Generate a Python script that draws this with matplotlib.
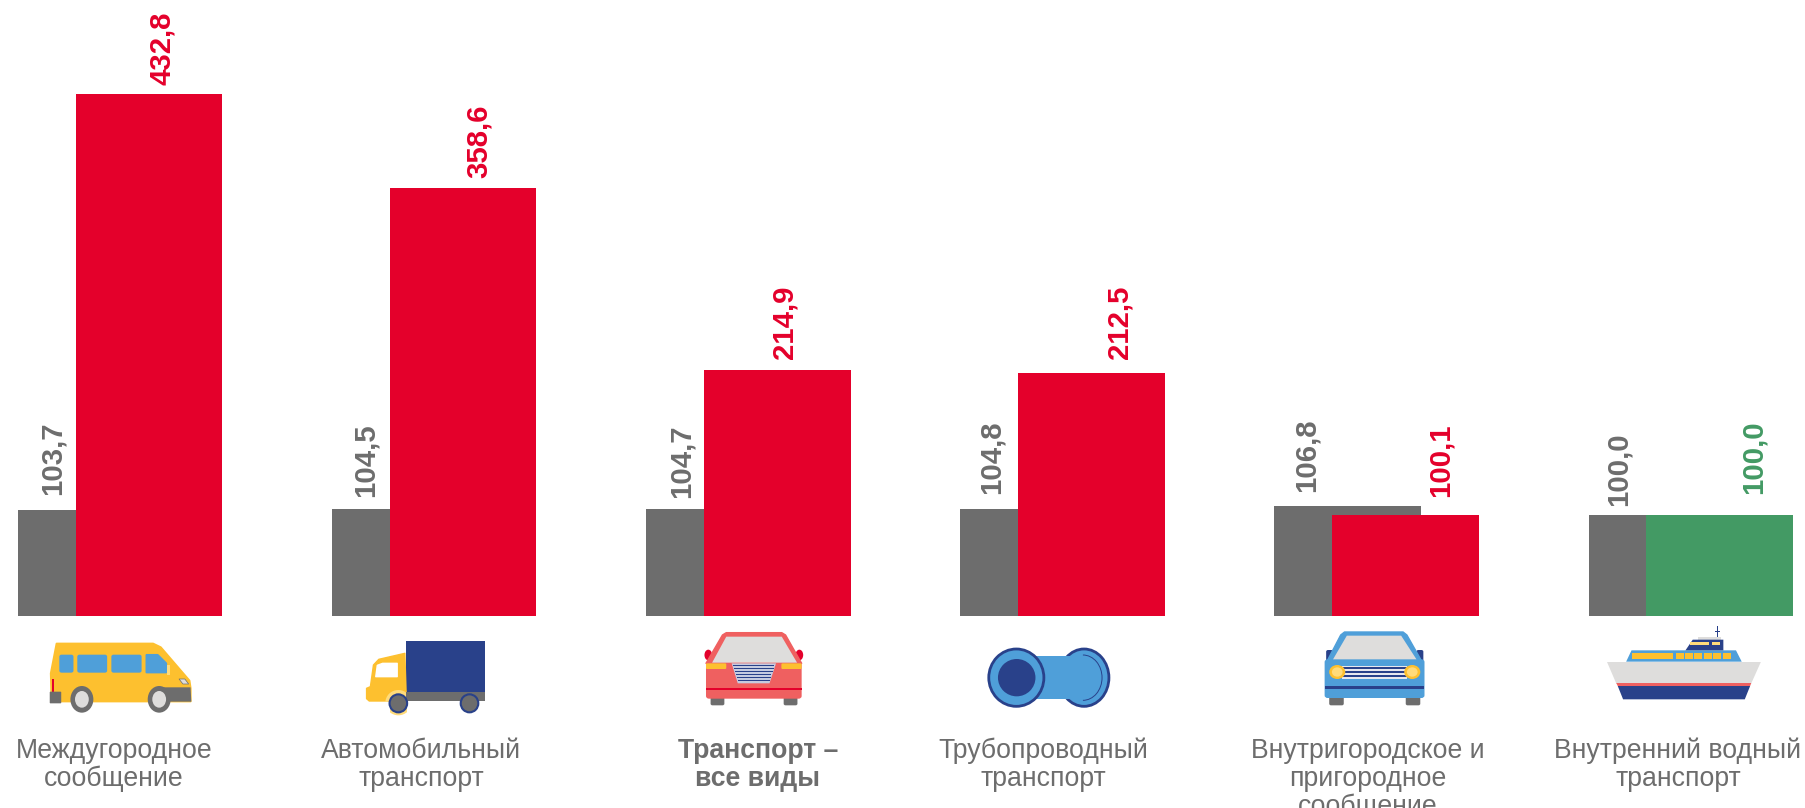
import matplotlib
matplotlib.use("Agg")
import matplotlib.pyplot as plt
from matplotlib.patches import Polygon, Ellipse, Rectangle, FancyBboxPatch, Arc
from matplotlib.transforms import Affine2D

plt.rcParams['font.family'] = ['Liberation Sans', 'DejaVu Sans']

# ---- data ----
categories = ["Междугородное\nсообщение", "Автомобильный\nтранспорт", "Транспорт –\nвсе виды",
              "Трубопроводный\nтранспорт", "Внутригородское и\nпригородное\nсообщение",
              "Внутренний водный\nтранспорт"]
grey_values = [103.7, 104.5, 104.7, 104.8, 106.8, 100.0]
main_values = [432.8, 358.6, 214.9, 212.5, 100.1, 100.0]

# ---- styles / layout ----
GREY, RED, GREEN = "#6D6D6D", "#E4002B", "#439A64"
YEL, PALE, BLUE, NAVY, LG, CORAL = "#FDC02F", "#FFDB7A", "#4F9FD9", "#29418A", "#DEDDDC", "#EF6060"
main_colors = [RED, RED, RED, RED, RED, GREEN]
bold_flags = [False, False, True, False, False, False]
W, H = 1806, 808
PX_GROUP, PX_BAR, PX_OFF = 314.1, 146.7, 57.6
grey_dx = [-39, -40, -38, -42, -41, -43]
main_dx = [13, 16, 7, 28, 35, 34]
grey_dy = [15, 12, 11, 15, 14, 9]
main_dy = [9, 10, 11, 14, 18, 21]
label_cx = [114, 421, 758, 1043, 1368, 1678]
y0, ppu, ybase = 616, 1.2666, 20.3
left_px = 120.2

fig = plt.figure(figsize=(W / 100, H / 100), dpi=100, facecolor="white")
ax = fig.add_axes([0, 1 - y0 / H, 1, y0 / H])
ax.set_xlim(-left_px / PX_GROUP, (W - left_px) / PX_GROUP)
ax.set_ylim(ybase, ybase + y0 / ppu)
ax.axis("off")

bw, off = PX_BAR / PX_GROUP, PX_OFF / PX_GROUP / 2
xs = list(range(len(categories)))
ax.bar([x - off for x in xs], grey_values, width=bw, color=GREY, bottom=0, zorder=2)
ax.bar([x + off for x in xs], main_values, width=bw, color=main_colors, bottom=0, zorder=3)


def fmt(v):
    return f"{v:.1f}".replace(".", ",")


PT = 72 / 100
for i, x in enumerate(xs):
    ax.annotate(fmt(grey_values[i]), (x - off, grey_values[i]),
                xytext=(grey_dx[i] * PT, grey_dy[i] * PT), textcoords="offset points",
                rotation=90, ha="center", va="bottom", color=GREY, fontsize=21.2,
                fontweight="bold", annotation_clip=False)
    ax.annotate(fmt(main_values[i]), (x + off, main_values[i]),
                xytext=(main_dx[i] * PT, main_dy[i] * PT), textcoords="offset points",
                rotation=90, ha="center", va="bottom", color=main_colors[i], fontsize=21.2,
                fontweight="bold", annotation_clip=False)

# overlay in pixel space for pictograms and category captions
ov = fig.add_axes([0, 0, 1, 1], zorder=5)
ov.set_xlim(0, W)
ov.set_ylim(H, 0)
ov.axis("off")
ov.patch.set_alpha(0)

for i, txt in enumerate(categories):
    ov.text(label_cx[i], 738, txt, ha="center", va="top", color=GREY, fontsize=19.2,
            fontweight="bold" if bold_flags[i] else "normal", linespacing=1.08)


def crop(x0):
    return Affine2D().scale(600 / 1568, 1 / 3).translate(x0, 610) + ov.transData


def poly(tr, pts, c, ec=None, lw=0):
    ov.add_patch(Polygon(pts, closed=True, fc=c, ec=ec or c, lw=lw, joinstyle="round", transform=tr))


def rect(tr, x1, y1, x2, y2, c, r=0):
    if r:
        ov.add_patch(FancyBboxPatch((x1 + r, y1 + r), x2 - x1 - 2 * r, y2 - y1 - 2 * r,
                                    boxstyle=f"round,pad={r}", fc=c, ec="none", transform=tr))
    else:
        ov.add_patch(Rectangle((x1, y1), x2 - x1, y2 - y1, fc=c, ec="none", transform=tr))


def ell(tr, cx, cy, rx, ry, c, ec="none", lw=0):
    ov.add_patch(Ellipse((cx, cy), 2 * rx, 2 * ry, fc=c, ec=ec, lw=lw, transform=tr))


# minibus
t = crop(0)
poly(t, [(148, 101), (400, 101), (420, 112), (495, 212), (498, 235), (498, 274), (135, 274), (133, 190)], YEL, lw=1.5)
rect(t, 155, 134, 192, 188, BLUE, 6)
rect(t, 202, 134, 280, 188, BLUE, 6)
rect(t, 291, 134, 370, 188, BLUE, 6)
poly(t, [(383, 135), (412, 135), (434, 160), (434, 187), (383, 187)], BLUE, lw=1.5)
rect(t, 437, 165, 445, 195, PALE)
rect(t, 135, 208, 140, 245, RED)
poly(t, [(395, 250), (410, 232), (498, 232), (500, 275), (395, 275)], GREY)
rect(t, 130, 245, 160, 280, GREY, 2)
poly(t, [(468, 207), (483, 207), (493, 222), (478, 222)], LG, ec=GREY, lw=0.5)
for cx in (214, 416):
    ell(t, cx, 268, 30, 40, GREY)
    ell(t, cx, 268, 18, 25, LG)

# truck
rect(t, 1062, 94, 1268, 245, NAVY)
rect(t, 1062, 245, 1268, 274, GREY)
poly(t, [(1058, 130), (990, 148), (976, 165), (968, 230), (958, 235), (958, 266), (965, 273), (1062, 273)], YEL, lw=1)
poly(t, [(986, 166), (1000, 160), (1038, 160), (1038, 200), (982, 200)], "white", lw=1)
ell(t, 1041, 278, 34, 38, PALE)
rect(t, 1005, 275, 1018, 310, "white")
rect(t, 1064, 275, 1080, 310, GREY)
rect(t, 1064, 274, 1080, 310, "white")
rect(t, 1062, 245, 1268, 274, GREY)
ell(t, 1041, 280, 23, 27, GREY, ec=NAVY, lw=1.5)
ell(t, 1227, 280, 23, 27, GREY, ec=NAVY, lw=1.5)

# red car
t = crop(600)
rect(t, 289, 255, 325, 286, GREY, 5)
rect(t, 480, 255, 516, 286, GREY, 5)
ell(t, 283, 135, 10, 16, RED)
ell(t, 521, 135, 10, 16, RED)
poly(t, [(330, 68), (475, 68), (485, 75), (527, 160), (277, 160), (320, 75)], CORAL, lw=1)
rect(t, 277, 155, 527, 266, CORAL, 8)
poly(t, [(330, 80), (475, 80), (515, 158), (293, 158)], LG)
rect(t, 277, 160, 330, 177, YEL, 3)
rect(t, 474, 160, 527, 177, YEL, 3)
poly(t, [(344, 160), (460, 160), (443, 220), (360, 220)], "#C5CBE0")
for yy, xa, xb in [(167, 348, 456), (176, 350, 454), (185, 352, 451), (194, 355, 448), (203, 357, 446), (212, 360, 443)]:
    rect(t, xa, yy - 2.5, xb, yy + 2.5, NAVY)
rect(t, 277, 233, 527, 241, RED)

# pipe
ell(t, 1265, 203, 65, 86, BLUE, ec=NAVY, lw=2)
ov.add_patch(Arc((1262, 203), 100, 136, theta1=-90, theta2=90, ec=NAVY, lw=0.7, transform=t))
rect(t, 1140, 138, 1265, 268, BLUE)
ell(t, 1088, 203, 72, 86, BLUE, ec=NAVY, lw=2)
ell(t, 1089, 203, 49, 56, NAVY)

# blue car
t = crop(1206)
rect(t, 322, 250, 360, 286, GREY, 5)
rect(t, 522, 250, 560, 286, GREY, 5)
rect(t, 314, 120, 332, 155, NAVY, 5)
rect(t, 550, 120, 568, 155, NAVY, 5)
poly(t, [(362, 66), (515, 66), (525, 75), (562, 150), (318, 150), (352, 75)], BLUE, lw=1)
rect(t, 310, 148, 571, 264, BLUE, 8)
poly(t, [(368, 77), (510, 77), (550, 148), (332, 148)], LG)
rect(t, 355, 168, 525, 206, "#E7E8EE")
for yy in (174, 186, 198):
    rect(t, 355, yy - 2.5, 525, yy + 2.5, NAVY)
for cx in (343, 539):
    ell(t, cx, 186, 21, 21, YEL)
    ell(t, cx, 186, 14, 14, PALE)
rect(t, 310, 228, 571, 236, NAVY)

# ship
poly(t, [(1048, 156), (1450, 156), (1425, 220), (1072, 220)], LG)
poly(t, [(1072, 219), (1425, 219), (1422, 228), (1076, 228)], CORAL)
poly(t, [(1076, 228), (1422, 228), (1408, 268), (1090, 268)], NAVY)
poly(t, [(1098, 155), (1112, 121), (1385, 121), (1400, 155)], BLUE)
rect(t, 1113, 130, 1221, 147, YEL)
for xa in (1227, 1251, 1276, 1301, 1326, 1351):
    rect(t, xa, 130, xa + 21, 147, YEL)
rect(t, 1285, 80, 1345, 90, LG)
poly(t, [(1253, 121), (1272, 89), (1352, 89), (1352, 121)], NAVY)
rect(t, 1265, 96, 1315, 105, PALE)
rect(t, 1322, 96, 1343, 105, PALE)
rect(t, 1336, 48, 1339, 80, NAVY)
rect(t, 1331, 56, 1344, 58, NAVY)
rect(t, 1331, 63, 1344, 65, NAVY)

fig.savefig("out.png", dpi=100, facecolor="white")
